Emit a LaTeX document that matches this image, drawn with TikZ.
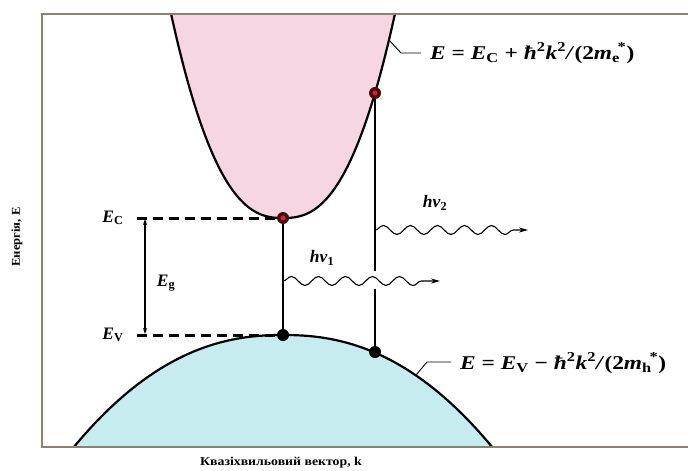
\documentclass[tikz,border=0pt]{standalone}
\usepackage{fontspec}
\setmainfont{Liberation Serif}
\usetikzlibrary{decorations.pathmorphing,arrows.meta}
\definecolor{cpink}{RGB}{246,214,226}
\definecolor{cblue}{RGB}{198,236,240}
\definecolor{cframe}{RGB}{140,128,112}
\definecolor{edark}{RGB}{70,12,12}
\definecolor{ered}{RGB}{205,35,45}
\begin{document}
\begin{tikzpicture}[x=1pt,y=-1pt,
  bandline/.style={line width=2.2pt},
  edot/.style={circle,fill=edark,inner sep=0pt,minimum size=12pt,
    path picture={\fill[ered] (path picture bounding box.center) circle (2.6pt);}},
  hdot/.style={circle,fill=black,inner sep=0pt,minimum size=12pt},
  levdash/.style={line width=3pt,dash pattern=on 10pt off 6pt},
  trans/.style={line width=2.8pt},
  photon/.style={line width=1.1pt,-{Stealth[length=9pt,width=5pt]},
    decorate,decoration={snake,amplitude=4.5pt,segment length=27pt,post length=14pt}},
  lbl/.style={font=\fontsize{17.5}{18}\selectfont\bfseries,inner sep=0pt},
  formula/.style={font=\fontsize{19.5}{20}\selectfont\bfseries,inner sep=0pt,anchor=west},
  axis/.style={font=\fontsize{12}{12}\selectfont\bfseries,inner sep=0pt},
  leader/.style={line width=0.9pt}
]
\useasboundingbox (0,0) rectangle (688,471);
\fill[white] (0,0) rectangle (688,471);
% bands
\begin{scope}
\clip (42,14) rectangle (690,447);
\fill[cpink] plot[domain=-125:125,samples=121] ({283+\x},{218-154*(abs(\x)/100)^2.5}) -- cycle;
\fill[cblue] plot[domain=-230:230,samples=121] ({283+\x},{335+21.3*(abs(\x)/100)^2.25}) -- cycle;
\draw[bandline] plot[domain=-125:125,samples=121] ({283+\x},{218-154*(abs(\x)/100)^2.5});
\draw[bandline] plot[domain=-230:230,samples=121] ({283+\x},{335+21.3*(abs(\x)/100)^2.25});
\end{scope}
% frame
\draw[cframe,line width=2pt] (690,14) -- (42,14) -- (42,447) -- (690,447);
% levels
\node[lbl] (ec) at (113,218) {\textit{E}\textsubscript{C}};
\node[lbl] (ev) at (113,335) {\textit{E}\textsubscript{V}};
\coordinate (dc) at (137,218);
\coordinate (dv) at (137,335);
\node[edot] (e1) at (283,218) {};
\node[hdot] (h1) at (283,335) {};
\node[edot] (e2) at (375,93) {};
\node[hdot] (h2) at (375,352) {};
\draw[levdash] (dc) -- (e1);
\draw[levdash] (dv) -- (h1);
\coordinate (ga) at (145,219);
\coordinate (gb) at (145,334);
\draw[line width=1.6pt,{Stealth[length=6pt,width=4pt]}-{Stealth[length=6pt,width=4pt]}] (ga) -- (gb);
\node[lbl] (eg) at (166,283) {\textit{E}\textsubscript{g}};
% transitions
\draw[trans] (e1) -- (h1);
\draw[trans] (e2) -- (h2);
\coordinate (gap1) at (375,271);
\coordinate (gap2) at (375,289);
\draw[white,line width=5pt] (gap1) -- (gap2);
\coordinate (w1s) at (283,281);
\coordinate (w1e) at (440,281);
\coordinate (w2s) at (375,230);
\coordinate (w2e) at (528,230);
\draw[photon] (w1s) -- (w1e);
\draw[photon] (w2s) -- (w2e);
\node[lbl] (hn1) at (322,258) {\textit{hν}\textsubscript{1}};
\node[lbl] (hn2) at (435,203) {\textit{hν}\textsubscript{2}};
% band formulas
\coordinate (l1a) at (389,40);
\coordinate (l1b) at (401,53);
\coordinate (l1c) at (421,53);
\draw[leader] (l1a) -- (l1b) -- (l1c);
\node[formula] (fc) at (430,53) {\scalebox{1.2}[1]{\textit{E} = \textit{E}\textsubscript{C} + \textit{ħ}\textsuperscript{2}\textit{k}\textsuperscript{2}\textit{/}(2\textit{m}\textsubscript{e}\kern-0.1em\textsuperscript{*})}};
\coordinate (l2a) at (416,375);
\coordinate (l2b) at (427,362);
\coordinate (l2c) at (451,362);
\draw[leader] (l2a) -- (l2b) -- (l2c);
\node[formula] (fv) at (460,363) {\scalebox{1.2}[1]{\textit{E} = \textit{E}\textsubscript{V} − \textit{ħ}\textsuperscript{2}\textit{k}\textsuperscript{2}\textit{/}(2\textit{m}\textsubscript{h}\kern-0.1em\textsuperscript{*})}};
% axes labels
\node[axis,rotate=90] (ya) at (17,237) {\scalebox{1.05}[1]{Енергія, Е}};
\node[axis] (xa) at (281,463) {\scalebox{1.15}[1]{Квазіхвильовий вектор, k}};
\end{tikzpicture}
\end{document}
